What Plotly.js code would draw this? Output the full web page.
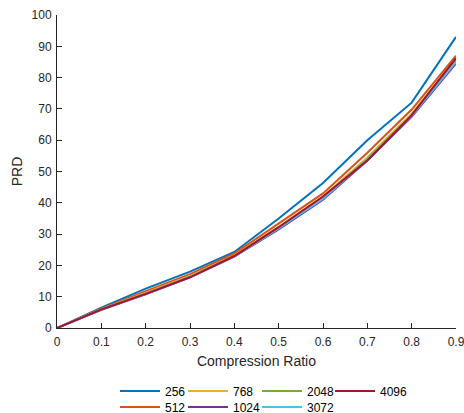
<!DOCTYPE html>
<html><head><meta charset="utf-8">
<script src="https://cdn.plot.ly/plotly-3.0.1.min.js"></script>
<style>body{margin:0;background:#fff}#c{width:464px;height:413px}</style>
</head><body><div id="c"></div>
<script>
const ratios = [0,0.1,0.2,0.3,0.4,0.5,0.6,0.7,0.8,0.9];
const prd256  = [0,6.5,12.6,18,24.3,35,46.3,60,72,93];
const prd512  = [0,6.2,11.8,17.2,23.8,33.3,43,56,69.8,87];
const prd768  = [0,6,11.2,16.6,23.2,32.3,42,54.5,68.5,86];
const prd1024 = [0,5.8,10.8,16.2,22.8,31.5,41,53.5,67.5,84.5];
const prd2048 = [0,5.9,11,16.4,23,32,41.6,54,68,85.5];
const prd3072 = [0,5.9,11,16.3,22.9,31.8,41.3,53.8,67.8,85];
const prd4096 = [0,5.9,10.9,16.2,23,32.2,42,53.5,68,86.2];
const names = ['256','512','768','1024','2048','3072','4096'];
const series = [prd256,prd512,prd768,prd1024,prd2048,prd3072,prd4096];
const colors = ['#0072BD','#D95319','#EDB120','#7E2F8E','#77AC30','#4DBEEE','#A2142F'];
// legend grid: column / row of each series (2 rows, column-major like the reference)
const legCol = [0,0,1,1,2,2,3];
const legRow = [0,1,0,1,0,1,0];
const colX = [115,183,257,330];
const rowY = [391,407];
const traces = series.map((s,i)=>({
  x: ratios, y: s, type:'scatter', mode:'lines', name: names[i],
  line:{color:colors[i], width:2}, legend: i===0 ? 'legend' : 'legend'+(i+1)
}));
const layout = {
  width:464, height:413, paper_bgcolor:'#fff', plot_bgcolor:'#fff',
  margin:{l:57, r:8, t:15, b:85},
  font:{family:'Liberation Sans, Arial', size:12, color:'#262626'},
  showlegend:true,
  xaxis:{range:[0,0.9], tickvals:ratios, ticktext:ratios.map(String), ticks:'inside', ticklen:5,
    tickcolor:'#262626', showline:true, linecolor:'#262626', linewidth:1, showgrid:false, zeroline:false,
    ticklabeloverflow:'allow', ticklabelstandoff:3,
    tickfont:{size:12}, title:{text:'Compression Ratio', font:{size:14}, standoff:7}},
  yaxis:{range:[0,100], dtick:10, ticks:'inside', ticklen:5, tickcolor:'#262626', showline:true,
    linecolor:'#262626', linewidth:1, showgrid:false, zeroline:false, tickfont:{size:12},
    ticklabelstandoff:2,
    title:{text:'PRD', font:{size:14}, standoff:5}}
};
names.forEach((n,i)=>{
  const key = i===0 ? 'legend' : 'legend'+(i+1);
  layout[key] = {orientation:'h', xanchor:'left', yanchor:'middle', xref:'container', yref:'container',
    x: colX[legCol[i]]/464, y: 1-rowY[legRow[i]]/413,
    font:{family:'Liberation Sans, Arial', size:12, color:'#000'}, itemwidth:40,
    bgcolor:'rgba(0,0,0,0)'};
});
Plotly.newPlot('c', traces, layout, {staticPlot:true, displayModeBar:false});
</script></body></html>
